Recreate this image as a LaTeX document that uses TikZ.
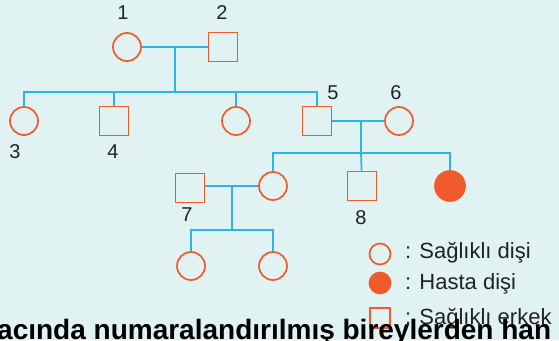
\documentclass[tikz,border=0pt]{standalone}
\usepackage{fontspec}
\setmainfont{Liberation Sans}
\usetikzlibrary{positioning}
\definecolor{bgcyan}{HTML}{E0F2F2}
\definecolor{ored}{HTML}{F15A2B}
\definecolor{lblue}{HTML}{2AB4E8}
\definecolor{txtgray}{HTML}{222222}

\begin{document}
\begin{tikzpicture}[x=1pt, y=-1pt,
    female/.style={circle, draw=ored, line width=1.7pt, minimum size=#1, inner sep=0pt},
    female/.default=28pt,
    male/.style={rectangle, draw=ored, line width=1.7pt, minimum size=#1, inner sep=0pt},
    male/.default=29pt,
    ill/.style={female=#1, fill=ored},
    ill/.default=30pt,
    link/.style={draw=lblue, line width=1.7pt},
    num/.style={font=\fontsize{20}{20}\selectfont, text=txtgray, inner sep=0pt},
    legtext/.style={anchor=west, font=\fontsize{22}{22}\selectfont, text=txtgray, inner sep=0pt}
]
\fill[bgcyan] (0,0) rectangle (559,340);
\useasboundingbox (0,0) rectangle (559,340);
\clip (0,0) rectangle (559,340);

% first generation
\node[female] (n1) at (127,47) {};
\node[male] (n2) at (223,47) {};
\node[num] (num1) at (123,13) {1};
\node[num] (num2) at (222,13) {2};

% second generation
\node[female] (n3) at (24,121) {};
\node[male] (n4) at (114,121) {};
\node[female] (n9) at (236,121) {};
\node[male] (n5) at (317,121) {};
\node[female] (n6) at (399,121) {};
\node[num] (num3) at (15,152) {3};
\node[num] (num4) at (113,152) {4};
\node[num] (num5) at (333,93) {5};
\node[num] (num6) at (396,93) {6};

% third generation
\node[male] (n7) at (190,188) {};
\node[female] (n10) at (273,186) {};
\node[male] (n8) at (362,186) {};
\node[ill] (n11) at (450,186) {};
\node[num] (num7) at (187,215) {7};
\node[num] (num8) at (361,218) {8};

% fourth generation
\node[female] (n12) at (191,266) {};
\node[female] (n13) at (273,266) {};

% connectors
\coordinate (m12) at (175,47);
\coordinate (s12) at (175,92);
\draw[link] (n1) -- (n2);
\draw[link] (m12) -- (s12);
\draw[link] (s12) -| (n3);
\draw[link] (s12) -| (n4);
\draw[link] (s12) -| (n9);
\draw[link] (s12) -| (n5);

\coordinate (m56) at (361,121);
\coordinate (s56) at (361,153);
\draw[link] (n5) -- (n6);
\draw[link] (m56) -- (s56);
\draw[link] (s56) -| (n10);
\draw[link] (s56) -- (n8);
\draw[link] (s56) -| (n11);

\coordinate (m7) at (232,186);
\coordinate (s7) at (232,230);
\draw[link] (n7.east |- n10) -- (n10);
\draw[link] (m7) -- (s7);
\draw[link] (s7) -| (n12);
\draw[link] (s7) -| (n13);

% legend
\node[female=21pt] (keyf) at (380,254) {};
\node[ill=21pt] (keyi) at (380,283) {};
\node[male=20pt] (keym) at (380,318) {};
\node[legtext] (txtf) at (405,253) {: Sağlıklı dişi};
\node[legtext] (txti) at (405,284) {: Hasta dişi};
\node[legtext] (txtm) at (405,319) {: Sağlıklı erkek};

\node[anchor=base west, font=\bfseries\fontsize{28}{28}\selectfont, text=black, inner sep=0pt] (caption) at (-3,339) {acında numaralandırılmış bireylerden han};
\end{tikzpicture}
\end{document}
